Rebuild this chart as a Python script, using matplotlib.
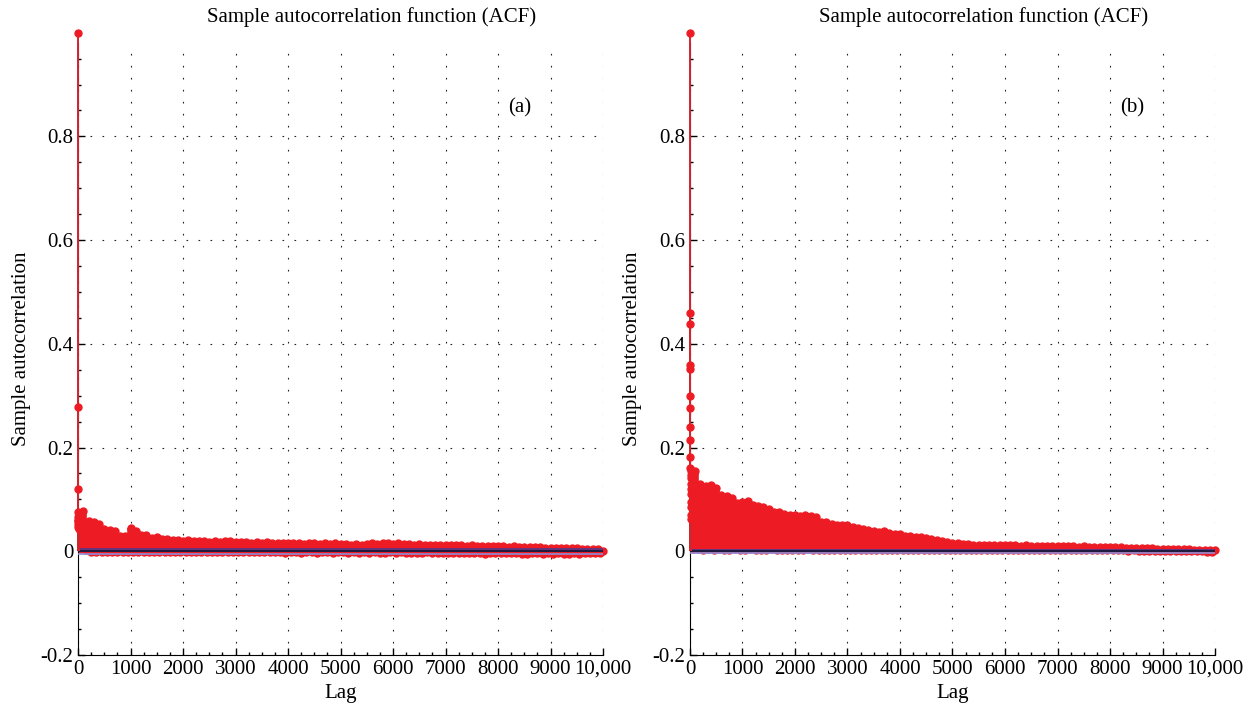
import numpy as np
import matplotlib
matplotlib.use('Agg')
import matplotlib.pyplot as plt
from matplotlib.ticker import MultipleLocator

plt.rcParams['font.family'] = ['Liberation Serif', 'DejaVu Serif']
plt.rcParams['axes.unicode_minus'] = False

# first lags, drawn one by one
headLagsA = list(range(0, 11))
headAcfA = [1.0, 0.279, 0.121, 0.075, 0.066, 0.058, 0.052, 0.061, 0.047, 0.055, 0.043]
headLagsB = list(range(0, 21))
headAcfB = [1.0, 0.460, 0.439, 0.359, 0.352, 0.300, 0.277, 0.240, 0.214, 0.182, 0.161,
            0.155, 0.148, 0.130, 0.142, 0.110, 0.120, 0.095, 0.085, 0.070, 0.062]

# the dense part: largest value in each 100-lag bin, smallest value between them
hiLags = list(range(100, 10001, 100))
loLags = list(range(50, 10000, 100))

hiAcfA = [0.078, 0.058, 0.057, 0.053, 0.042, 0.041, 0.039, 0.030, 0.029, 0.044,
          0.040, 0.032, 0.031, 0.026, 0.027, 0.024, 0.023, 0.022, 0.021, 0.020,
          0.021, 0.019, 0.020, 0.019, 0.018, 0.019, 0.018, 0.019, 0.020, 0.018,
          0.017, 0.018, 0.016, 0.017, 0.016, 0.017, 0.016, 0.015, 0.016, 0.016,
          0.015, 0.016, 0.014, 0.015, 0.015, 0.014, 0.015, 0.014, 0.015, 0.014,
          0.014, 0.013, 0.014, 0.013, 0.014, 0.015, 0.014, 0.016, 0.015, 0.014,
          0.015, 0.014, 0.014, 0.013, 0.014, 0.013, 0.013, 0.012, 0.013, 0.012,
          0.013, 0.012, 0.012, 0.011, 0.012, 0.011, 0.011, 0.010, 0.011, 0.010,
          0.010, 0.009, 0.010, 0.009, 0.009, 0.008, 0.008, 0.008, 0.007, 0.007,
          0.007, 0.007, 0.007, 0.006, 0.006, 0.005, 0.005, 0.004, 0.004, 0.001]
loAcfA = [0.004, 0.002, -0.001, -0.002, -0.001, -0.002, -0.001, -0.002, -0.001, -0.002,
          -0.001, -0.002, -0.002, -0.001, -0.002, -0.001, -0.002, -0.002, -0.001, -0.002,
          -0.002, -0.001, -0.002, -0.002, -0.001, -0.002, -0.002, -0.001, -0.002, -0.002,
          -0.002, -0.001, -0.002, -0.002, -0.002, -0.001, -0.002, -0.002, -0.002, -0.003,
          -0.002, -0.002, -0.003, -0.002, -0.002, -0.003, -0.002, -0.002, -0.004, -0.002,
          -0.002, -0.003, -0.002, -0.003, -0.002, -0.003, -0.002, -0.003, -0.003, -0.002,
          -0.003, -0.002, -0.003, -0.003, -0.004, -0.003, -0.002, -0.003, -0.003, -0.003,
          -0.003, -0.004, -0.003, -0.003, -0.004, -0.003, -0.004, -0.005, -0.003, -0.004,
          -0.004, -0.003, -0.004, -0.004, -0.005, -0.006, -0.004, -0.004, -0.005, -0.004,
          -0.005, -0.004, -0.005, -0.005, -0.004, -0.005, -0.004, -0.004, -0.003, -0.003]

hiAcfB = [0.154, 0.130, 0.126, 0.128, 0.122, 0.108, 0.107, 0.103, 0.094, 0.095,
          0.097, 0.090, 0.088, 0.085, 0.081, 0.076, 0.076, 0.072, 0.070, 0.069,
          0.068, 0.069, 0.068, 0.066, 0.057, 0.056, 0.053, 0.051, 0.050, 0.050,
          0.046, 0.044, 0.043, 0.041, 0.040, 0.038, 0.039, 0.035, 0.033, 0.033,
          0.030, 0.029, 0.028, 0.028, 0.026, 0.023, 0.021, 0.020, 0.018, 0.016,
          0.015, 0.014, 0.014, 0.013, 0.013, 0.013, 0.013, 0.012, 0.013, 0.012,
          0.012, 0.012, 0.011, 0.012, 0.011, 0.011, 0.011, 0.011, 0.010, 0.011,
          0.010, 0.010, 0.010, 0.009, 0.010, 0.009, 0.009, 0.009, 0.009, 0.008,
          0.008, 0.008, 0.007, 0.007, 0.007, 0.006, 0.006, 0.006, 0.005, 0.005,
          0.005, 0.004, 0.004, 0.004, 0.004, 0.003, 0.003, 0.003, 0.002, 0.002]
loAcfB = [0.004, 0.004, 0.003, 0.004, 0.003, 0.004, 0.003, 0.003, 0.004, 0.003,
          0.003, 0.004, 0.003, 0.003, 0.003, 0.004, 0.003, 0.003, 0.003, 0.003,
          0.003, 0.003, 0.004, 0.003, 0.003, 0.003, 0.003, 0.003, 0.003, 0.003,
          0.003, 0.003, 0.003, 0.003, 0.003, 0.003, 0.003, 0.003, 0.003, 0.003,
          0.003, 0.003, 0.003, 0.003, 0.003, 0.003, 0.003, 0.003, 0.003, 0.003,
          0.003, 0.003, 0.003, 0.003, 0.003, 0.003, 0.003, 0.003, 0.003, 0.003,
          0.002, 0.003, 0.002, 0.003, 0.002, 0.003, 0.002, 0.002, 0.003, 0.002,
          0.002, 0.002, 0.002, 0.002, 0.002, 0.002, 0.002, 0.002, 0.002, 0.002,
          0.002, 0.002, 0.002, 0.001, 0.002, 0.001, 0.001, 0.001, 0.001, 0.001,
          0.001, 0.001, 0.001, 0.001, 0.000, 0.001, 0.000, 0.000, -0.001, -0.001]

boundA = 0.005
boundB = 0.003

xTicks = list(range(0, 10001, 1000))
xTickLabels = ['0', '1000', '2000', '3000', '4000', '5000', '6000', '7000', '8000', '9000', '10,000']
yTicks = [-0.2, 0, 0.2, 0.4, 0.6, 0.8]
yTickLabels = ['-0.2', '0', '0.2', '0.4', '0.6', '0.8']

RED = '#ed1c24'
STEMRED = '#d1262c'


def drawAcf(ax, headLags, headAcf, hiAcf, loAcf, bound, panel):
    # dense band of stems
    ax.vlines(loLags, 0, loAcf, color=RED, lw=5.5, zorder=2, clip_on=False)
    ax.vlines(hiLags, 0, hiAcf, color=RED, lw=5.5, zorder=2, clip_on=False)
    ax.plot(loLags, loAcf, 'o', ms=5, color=RED, mec=RED, zorder=2, clip_on=False)
    ax.plot(hiLags, hiAcf, 'o', ms=5, color=RED, mec=RED, zorder=2, clip_on=False)
    # first lags, over the left spine
    ax.vlines(headLags, 0, headAcf, color=STEMRED, lw=1.4, zorder=3.5, clip_on=False)
    ax.plot(headLags, headAcf, 'o', ms=5, color=RED, mec=RED, zorder=3.6, clip_on=False)

    # zero line and confidence bounds
    ax.hlines(bound, 0, 10000, color='#4b3a8f', lw=1.2, zorder=3)
    ax.hlines(0, 0, 10000, color='#1c1c40', lw=1.4, zorder=3.1)
    ax.hlines(-bound, 0, 10000, color='#8c8cd8', lw=1.2, zorder=3)

    ax.set_xlim(0, 10000)
    ax.set_ylim(-0.2, 0.98)
    ax.set_xticks(xTicks)
    ax.set_xticklabels(xTickLabels)
    ax.set_yticks(yTicks)
    ax.set_yticklabels(yTickLabels)
    ax.xaxis.set_minor_locator(MultipleLocator(250))
    ax.yaxis.set_minor_locator(MultipleLocator(0.05))
    ax.tick_params(which='both', direction='in', labelsize=15, width=1)
    ax.tick_params(which='major', length=5)
    ax.tick_params(which='minor', length=2.5)
    ax.spines['top'].set_visible(False)
    ax.spines['right'].set_visible(False)
    ax.set_axisbelow(True)
    ax.grid(True, which='major', color='#222222', lw=0.8, linestyle=(0, (1.5, 9.3)))

    ax.text(0.559, 1.042, 'Sample autocorrelation function (ACF)', fontsize=15,
            ha='center', va='center', transform=ax.transAxes)
    ax.set_xlabel('Lag', fontsize=15, labelpad=4)
    ax.set_ylabel('Sample autocorrelation', fontsize=15, labelpad=7)
    ax.text(8420, 0.855, panel, fontsize=15, ha='center', va='center')


fig = plt.figure(figsize=(12.49, 7.17), dpi=100)
axA = fig.add_axes([0.0625, 0.0865, 0.4203, 0.8535])
axB = fig.add_axes([0.5524, 0.0865, 0.4204, 0.8535])
drawAcf(axA, headLagsA, headAcfA, hiAcfA, loAcfA, boundA, '(a)')
drawAcf(axB, headLagsB, headAcfB, hiAcfB, loAcfB, boundB, '(b)')
fig.savefig('out.png', dpi=100)
